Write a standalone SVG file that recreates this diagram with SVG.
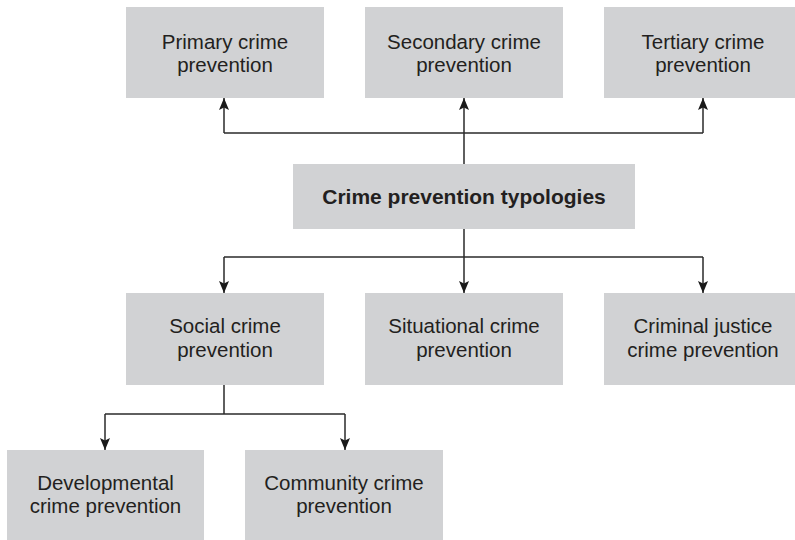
<svg xmlns="http://www.w3.org/2000/svg" width="795" height="540" viewBox="0 0 795 540">
<defs>
<style>
.box{fill:#d1d2d4;}
.t{font-family:"Liberation Sans",Arial,Helvetica,sans-serif;font-size:20.5px;fill:#231f20;text-anchor:middle;}
.b{font-weight:bold;font-size:21px;}
.c{fill:none;stroke:#2a2a2a;stroke-width:1.5;}
</style>
<marker id="ah" viewBox="0 0 12 10" refX="12" refY="5" markerWidth="12" markerHeight="10" markerUnits="userSpaceOnUse" orient="auto">
<path d="M0,0 L12,5 L0,10 L2.5,5 z" fill="#1a1a1a"/>
</marker>
</defs>
<rect width="795" height="540" fill="#ffffff"/>
<g id="connectors">
<path class="c" d="M464,164 V98" marker-end="url(#ah)"/>
<path class="c" d="M224,133 H703"/>
<path class="c" d="M224,133 V98" marker-end="url(#ah)"/>
<path class="c" d="M703,133 V98" marker-end="url(#ah)"/>
<path class="c" d="M464,229 V293" marker-end="url(#ah)"/>
<path class="c" d="M224,257 H703"/>
<path class="c" d="M224,257 V293" marker-end="url(#ah)"/>
<path class="c" d="M703,257 V293" marker-end="url(#ah)"/>
<path class="c" d="M224,385 V414"/>
<path class="c" d="M105,414 H345"/>
<path class="c" d="M105,414 V450" marker-end="url(#ah)"/>
<path class="c" d="M345,414 V450" marker-end="url(#ah)"/>
</g>
<g id="primary">
<rect class="box" x="126" y="7" width="198" height="91"/>
<text class="t" x="225" y="49">Primary crime</text>
<text class="t" x="225" y="72">prevention</text>
</g>
<g id="secondary">
<rect class="box" x="365" y="7" width="198" height="91"/>
<text class="t" x="464" y="49">Secondary crime</text>
<text class="t" x="464" y="72">prevention</text>
</g>
<g id="tertiary">
<rect class="box" x="604" y="7" width="198" height="91"/>
<text class="t" x="703" y="49">Tertiary crime</text>
<text class="t" x="703" y="72">prevention</text>
</g>
<g id="typologies">
<rect class="box" x="293" y="164" width="342" height="65"/>
<text class="t b" x="464" y="204">Crime prevention typologies</text>
</g>
<g id="social">
<rect class="box" x="126" y="293" width="198" height="92"/>
<text class="t" x="225" y="333">Social crime</text>
<text class="t" x="225" y="357">prevention</text>
</g>
<g id="situational">
<rect class="box" x="365" y="293" width="198" height="92"/>
<text class="t" x="464" y="333">Situational crime</text>
<text class="t" x="464" y="357">prevention</text>
</g>
<g id="criminal-justice">
<rect class="box" x="604" y="293" width="198" height="92"/>
<text class="t" x="703" y="333">Criminal justice</text>
<text class="t" x="703" y="357">crime prevention</text>
</g>
<g id="developmental">
<rect class="box" x="7" y="450" width="197" height="95"/>
<text class="t" x="105.5" y="490">Developmental</text>
<text class="t" x="105.5" y="513">crime prevention</text>
</g>
<g id="community">
<rect class="box" x="245" y="450" width="198" height="95"/>
<text class="t" x="344" y="490">Community crime</text>
<text class="t" x="344" y="513">prevention</text>
</g>
</svg>
